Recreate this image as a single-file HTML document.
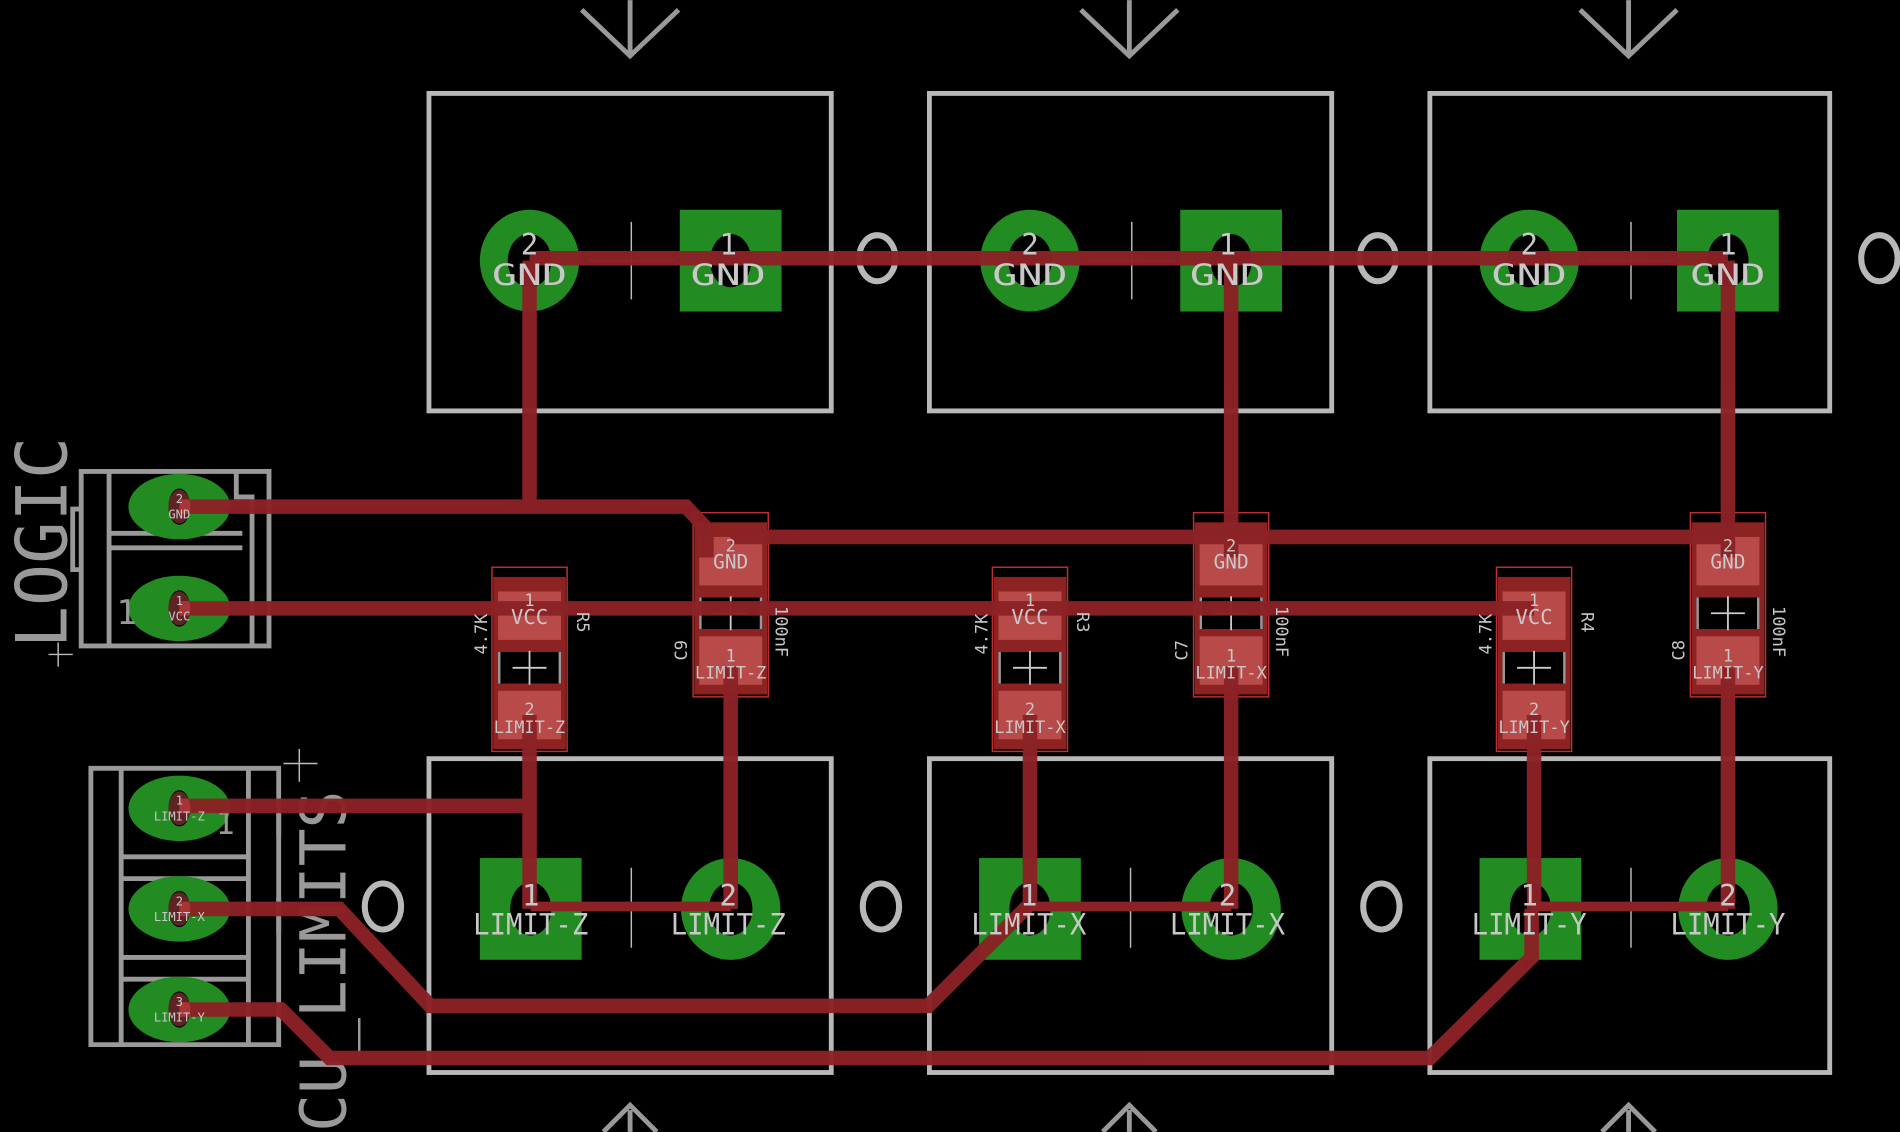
<!DOCTYPE html>
<html><head><meta charset="utf-8"><style>
html,body{margin:0;padding:0;background:#000;overflow:hidden}
svg{display:block}
text{font-family:"DejaVu Sans Mono","Liberation Mono",monospace;fill:#c8c8c8}
</style></head><body>
<svg width="1900" height="1132" viewBox="0 0 1568 934" xmlns="http://www.w3.org/2000/svg">
<rect width="1568" height="934" fill="#000"/>
<defs>
<g id="res">
 <rect x="-31" y="0" width="62" height="152" fill="none" stroke="#c03030" stroke-width="1.2"/>
 <rect x="-30" y="8" width="60" height="142" fill="#8c2222"/>
 <rect x="-26" y="20" width="52" height="40" fill="#b84a4a"/>
 <rect x="-26" y="102" width="52" height="40" fill="#b84a4a"/>
 <rect x="-26" y="70" width="52" height="26" fill="#000"/>
 <line x1="-25" y1="70" x2="-25" y2="96" stroke="#999" stroke-width="2"/>
 <line x1="25" y1="70" x2="25" y2="96" stroke="#999" stroke-width="2"/>
 <line x1="-14" y1="83" x2="14" y2="83" stroke="#ccc" stroke-width="1.5"/>
 <line x1="0" y1="69" x2="0" y2="97" stroke="#ccc" stroke-width="1.5"/>
</g>
<g id="sq"><rect x="-42" y="-42" width="84" height="84" fill="#228b22"/><ellipse cx="0" cy="0" rx="17" ry="22" fill="#000"/></g>
<g id="rd"><ellipse cx="0" cy="0" rx="41" ry="42" fill="#228b22"/><ellipse cx="0" cy="0" rx="18" ry="22" fill="#000"/></g>
</defs>

<g stroke="#999" stroke-width="4" fill="none">
 <path d="M520 0 V46 M480 8 L520 46 L560 8"/>
 <path d="M932 0 V46 M892 8 L932 46 L972 8"/>
 <path d="M1344 0 V46 M1304 8 L1344 46 L1384 8"/>
 <path d="M520 934 V916 M498 934 L520 912 L542 934"/>
 <path d="M932 934 V916 M910 934 L932 912 L954 934"/>
 <path d="M1344 934 V916 M1322 934 L1344 912 L1366 934"/>
</g>
<g stroke="#b8b8b8" stroke-width="4" fill="none">
 <rect x="354" y="77" width="332" height="262"/>
 <rect x="767" y="77" width="332" height="262"/>
 <rect x="1180" y="77" width="330" height="262"/>
 <rect x="354" y="626" width="332" height="259"/>
 <rect x="767" y="626" width="332" height="259"/>
 <rect x="1180" y="626" width="330" height="259"/>
</g>
<g stroke="#b8b8b8" stroke-width="5" fill="none">
 <ellipse cx="724" cy="213" rx="15" ry="19"/>
 <ellipse cx="1137" cy="213" rx="15" ry="19"/>
 <ellipse cx="1551" cy="213" rx="15" ry="19"/>
 <ellipse cx="316" cy="748" rx="15" ry="19"/>
 <ellipse cx="727" cy="748" rx="15" ry="19"/>
 <ellipse cx="1140" cy="748" rx="15" ry="19"/>
</g>
<use href="#rd" x="437" y="215"/><use href="#sq" x="603" y="215"/>
<use href="#rd" x="850" y="215"/><use href="#sq" x="1016" y="215"/>
<use href="#rd" x="1262" y="215"/><use href="#sq" x="1426" y="215"/>
<use href="#sq" x="438" y="750"/><use href="#rd" x="603" y="750"/>
<use href="#sq" x="850" y="750"/><use href="#rd" x="1016" y="750"/>
<use href="#sq" x="1263" y="750"/><use href="#rd" x="1426" y="750"/>
<g stroke="#bbb" stroke-width="1.2">
 <path d="M521 183 V247 M485 215 H557"/>
 <path d="M934 183 V247 M898 215 H970"/>
 <path d="M1346 183 V247 M1310 215 H1382"/>
 <path d="M521 716 V782 M485 748 H557"/>
 <path d="M933 716 V782 M897 748 H969"/>
 <path d="M1346 716 V782 M1310 748 H1382"/>
</g>

<g stroke="#999" stroke-width="4" fill="none">
 <path d="M67 389 H222 V533 H67 Z"/>
 <path d="M90 389 V533 M90 440 H200 M90 452 H200 M195 389 V410 H208 V533"/>
 <path d="M67 420 H60 V470 H67"/>
</g>
<ellipse cx="148" cy="418" rx="42" ry="27" fill="#228b22"/>
<ellipse cx="148" cy="502" rx="42" ry="27" fill="#228b22"/>
<ellipse cx="148" cy="418" rx="9" ry="15" fill="#000"/>
<ellipse cx="148" cy="502" rx="9" ry="15" fill="#000"/>
<text x="0" y="0" font-size="58" transform="translate(55,535) rotate(-90)" style="fill:#999">LOGIC</text>
<path d="M40 540 H60 M48 530 V550" stroke="#bbb" stroke-width="1.2"/>
<text x="96" y="515" font-size="28" style="fill:#999">1</text>

<g stroke="#999" stroke-width="4" fill="none">
 <path d="M75 634 H230 V862 H75 Z"/>
 <path d="M100 634 V862 M205 634 V862 M100 707 H205 M100 725 H205 M100 790 H205 M100 808 H205"/>
 <path d="M230 660 V690 M230 740 V770"/>
</g>
<ellipse cx="148" cy="667" rx="42" ry="27" fill="#228b22"/>
<ellipse cx="148" cy="750" rx="42" ry="27" fill="#228b22"/>
<ellipse cx="148" cy="833" rx="42" ry="27" fill="#228b22"/>
<ellipse cx="148" cy="667" rx="9" ry="15" fill="#000"/>
<ellipse cx="148" cy="750" rx="9" ry="15" fill="#000"/>
<ellipse cx="148" cy="833" rx="9" ry="15" fill="#000"/>
<text x="0" y="0" font-size="52" transform="translate(285,934) rotate(-90)" style="fill:#999">CU_LIMITS</text>
<path d="M234 630 H262 M247 618 V645" stroke="#bbb" stroke-width="1.2"/>
<text x="178" y="688" font-size="26" style="fill:#999">1</text>

<use href="#res" x="437" y="468"/>
<use href="#res" x="603" y="423"/>
<use href="#res" x="850" y="468"/>
<use href="#res" x="1016" y="423"/>
<use href="#res" x="1266" y="468"/>
<use href="#res" x="1426" y="423"/>

<g stroke="#8b2226" stroke-width="12" fill="none" stroke-linejoin="miter" opacity="0.97">
 <path d="M437 213 H1426"/>
 <path d="M437 215 V418"/>
 <path d="M148 418 H566 L583 436 V460"/>
 <path d="M603 443 H1426"/>
 <path d="M1016 215 V460"/>
 <path d="M1426 215 V460"/>
 <path d="M148 502 H1266"/>
 <path d="M437 590 V750"/>
 <path d="M603 550 V750"/>
 <path d="M850 590 V750"/>
 <path d="M1016 550 V750"/>
 <path d="M1266 590 V750"/>
 <path d="M1426 550 V750"/>
 <path d="M148 665 H437"/>
 <path d="M148 750 H280 L355 830 H766 L848 748"/>
 <path d="M148 833 H232 L272 873 H1180 L1264 790 V750"/>
</g>
<g stroke="#8b2226" stroke-width="8" fill="none">
 <path d="M438 748 H603 M850 748 H1016 M1263 748 H1426"/>
</g>
<g fill="#d05050" opacity="0.45">
 <ellipse cx="148" cy="418" rx="9" ry="14"/><ellipse cx="148" cy="502" rx="9" ry="14"/>
 <ellipse cx="148" cy="667" rx="9" ry="14"/><ellipse cx="148" cy="750" rx="9" ry="14"/><ellipse cx="148" cy="833" rx="9" ry="14"/>
</g>

<g font-size="14" text-anchor="middle">
 <text x="437" y="500">1</text><text x="437" y="515" font-size="17">VCC</text>
 <text x="437" y="590">2</text><text x="437" y="605">LIMIT-Z</text>
 <text x="603" y="455">2</text><text x="603" y="469" font-size="16">GND</text>
 <text x="603" y="546">1</text><text x="603" y="560">LIMIT-Z</text>
 <text x="850" y="500">1</text><text x="850" y="515" font-size="17">VCC</text>
 <text x="850" y="590">2</text><text x="850" y="605">LIMIT-X</text>
 <text x="1016" y="455">2</text><text x="1016" y="469" font-size="16">GND</text>
 <text x="1016" y="546">1</text><text x="1016" y="560">LIMIT-X</text>
 <text x="1266" y="500">1</text><text x="1266" y="515" font-size="17">VCC</text>
 <text x="1266" y="590">2</text><text x="1266" y="605">LIMIT-Y</text>
 <text x="1426" y="455">2</text><text x="1426" y="469" font-size="16">GND</text>
 <text x="1426" y="546">1</text><text x="1426" y="560">LIMIT-Y</text>
</g>
<g font-size="14" style="fill:#aaa">
 <text transform="translate(402,540) rotate(-90)">4.7K</text>
 <text transform="translate(476,505) rotate(90)">R5</text>
 <text transform="translate(815,540) rotate(-90)">4.7K</text>
 <text transform="translate(889,505) rotate(90)">R3</text>
 <text transform="translate(1231,540) rotate(-90)">4.7K</text>
 <text transform="translate(1305,505) rotate(90)">R4</text>
 <text transform="translate(567,545) rotate(-90)">C9</text>
 <text transform="translate(640,500) rotate(90)">100nF</text>
 <text transform="translate(980,545) rotate(-90)">C7</text>
 <text transform="translate(1053,500) rotate(90)">100nF</text>
 <text transform="translate(1390,545) rotate(-90)">C8</text>
 <text transform="translate(1463,500) rotate(90)">100nF</text>
</g>

<g font-size="24" text-anchor="middle">
 <text x="437" y="210">2</text><text x="437" y="235" textLength="62" lengthAdjust="spacingAndGlyphs">GND</text>
 <text x="601" y="210">1</text><text x="601" y="235" textLength="62" lengthAdjust="spacingAndGlyphs">GND</text>
 <text x="850" y="210">2</text><text x="850" y="235" textLength="62" lengthAdjust="spacingAndGlyphs">GND</text>
 <text x="1013" y="210">1</text><text x="1013" y="235" textLength="62" lengthAdjust="spacingAndGlyphs">GND</text>
 <text x="1262" y="210">2</text><text x="1262" y="235" textLength="62" lengthAdjust="spacingAndGlyphs">GND</text>
 <text x="1426" y="210">1</text><text x="1426" y="235" textLength="62" lengthAdjust="spacingAndGlyphs">GND</text>
 <text x="438" y="747">1</text><text x="438" y="771" textLength="95" lengthAdjust="spacingAndGlyphs">LIMIT-Z</text>
 <text x="601" y="747">2</text><text x="601" y="771" textLength="95" lengthAdjust="spacingAndGlyphs">LIMIT-Z</text>
 <text x="849" y="747">1</text><text x="849" y="771" textLength="95" lengthAdjust="spacingAndGlyphs">LIMIT-X</text>
 <text x="1013" y="747">2</text><text x="1013" y="771" textLength="95" lengthAdjust="spacingAndGlyphs">LIMIT-X</text>
 <text x="1262" y="747">1</text><text x="1262" y="771" textLength="95" lengthAdjust="spacingAndGlyphs">LIMIT-Y</text>
 <text x="1426" y="747">2</text><text x="1426" y="771" textLength="95" lengthAdjust="spacingAndGlyphs">LIMIT-Y</text>
</g>
<g font-size="10" text-anchor="middle">
 <text x="148" y="415">2</text><text x="148" y="428">GND</text>
 <text x="148" y="499">1</text><text x="148" y="512">VCC</text>
 <text x="148" y="664">1</text><text x="148" y="677">LIMIT-Z</text>
 <text x="148" y="747">2</text><text x="148" y="760">LIMIT-X</text>
 <text x="148" y="830">3</text><text x="148" y="843">LIMIT-Y</text>
</g>
</svg>
</body></html>
